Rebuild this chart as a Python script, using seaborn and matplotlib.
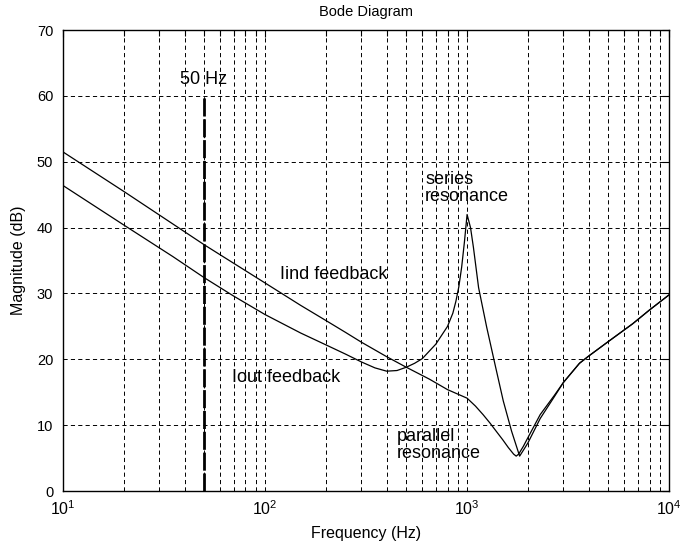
import numpy as np
import pandas as pd
import matplotlib
matplotlib.use("Agg")
import matplotlib.pyplot as plt
import matplotlib.ticker as mticker
import seaborn as sns

# magnitude curves (Hz, dB)
freq_iind = [10, 20, 50, 100, 150, 200, 250, 300, 400, 500, 650, 800, 1000, 1100, 1200, 1300,
             1400, 1500, 1600, 1700, 1750, 1800, 1900, 2000, 2300, 2700, 3000, 3600, 4000,
             5000, 6600, 8000, 10000]
mag_iind = [51.5, 45.5, 37.4, 31.6, 28.2, 25.9, 24.1, 22.6, 20.4, 18.8, 17.0, 15.4, 14.1, 12.9, 11.6, 10.3,
            9.0, 7.8, 6.6, 5.6, 5.3, 5.6, 6.8, 8.1, 11.6, 14.5, 16.5, 19.4, 20.5,
            22.7, 25.4, 27.5, 29.8]

freq_iout = [10, 20, 35, 50, 70, 100, 150, 200, 250, 300, 350, 400, 450, 500, 550, 600, 700, 800, 850,
             880, 910, 940, 970, 1000, 1040, 1075, 1140, 1250, 1380, 1510, 1660, 1820, 1900,
             2000, 2300, 2700, 3000, 3600, 4000, 5000, 6600, 8000, 10000]
mag_iout = [46.4, 40.4, 35.6, 32.4, 29.6, 26.8, 24.0, 22.2, 20.8, 19.6, 18.7, 18.2, 18.3, 18.8, 19.4, 20.1, 22.3, 25.0, 27.0,
            28.8, 31.0, 34.0, 37.8, 42.0, 40.0, 37.0, 30.9, 24.9, 19.0, 13.7, 9.1, 5.3, 6.2,
            7.3, 11.0, 14.3, 16.5, 19.4, 20.5, 22.7, 25.4, 27.5, 29.8]

mark_freq = 50
mark_top = 60

sns.set_style("white")
plt.rcParams["font.family"] = ["Liberation Sans", "DejaVu Sans"]
plt.rcParams["lines.scale_dashes"] = False
plt.rcParams["text.color"] = "black"
plt.rcParams["axes.labelcolor"] = "black"

fig = plt.figure(figsize=(6.97, 5.48), dpi=100)
ax = fig.add_axes([0.0904, 0.104, 0.8696, 0.841])
ax.set_xscale("log")

sns.lineplot(x=freq_iind, y=mag_iind, ax=ax, color="black", linewidth=0.9)
sns.lineplot(x=freq_iout, y=mag_iout, ax=ax, color="black", linewidth=0.9)

ax.vlines(mark_freq, 0, mark_top, colors="black", linewidth=2.0,
          linestyles=[(0, (13, 2))], zorder=3)

ax.set_xlim(10, 1e4)
ax.set_ylim(0, 70)
ax.set_yticks(np.arange(0, 71, 10))
ax.xaxis.set_major_locator(mticker.LogLocator(base=10, numticks=10))
ax.xaxis.set_minor_locator(mticker.LogLocator(base=10, subs=np.arange(2, 10), numticks=20))
ax.xaxis.set_minor_formatter(mticker.NullFormatter())

grid_style = dict(color="black", linewidth=0.7, linestyle=(0, (3, 2.3)))
ax.grid(True, which="major", axis="both", **grid_style)
ax.grid(True, which="minor", axis="x", **grid_style)

ax.tick_params(which="both", direction="in", top=True, right=True, colors="black",
               labelcolor="black")
ax.tick_params(which="major", length=5, width=0.8)
ax.tick_params(which="minor", length=4, width=0.8)
ax.tick_params(axis="y", pad=7, labelsize=10.5)
ax.tick_params(axis="x", pad=6, labelsize=11.5)
for s in ax.spines.values():
    s.set_color("black")
    s.set_linewidth(1.0)

ax.set_xlabel("Frequency (Hz)", fontsize=11.5, labelpad=6)
ax.set_ylabel("Magnitude (dB)", fontsize=11.5, labelpad=8)
ax.set_title("Bode Diagram", fontsize=10.5, pad=10)

txt = dict(fontsize=13, color="black", ha="left", va="center")
ax.text(37.9, 62.5, "50 Hz", **txt)
ax.text(118, 32.9, "Iind feedback", **txt)
ax.text(68.4, 17.2, "Iout feedback", **txt)
ax.text(620, 46.0, "series\nresonance", linespacing=1.05, **txt)
ax.text(450, 7.0, "parallel\nresonance", linespacing=1.05, **txt)

fig.savefig("out.png", dpi=100)
